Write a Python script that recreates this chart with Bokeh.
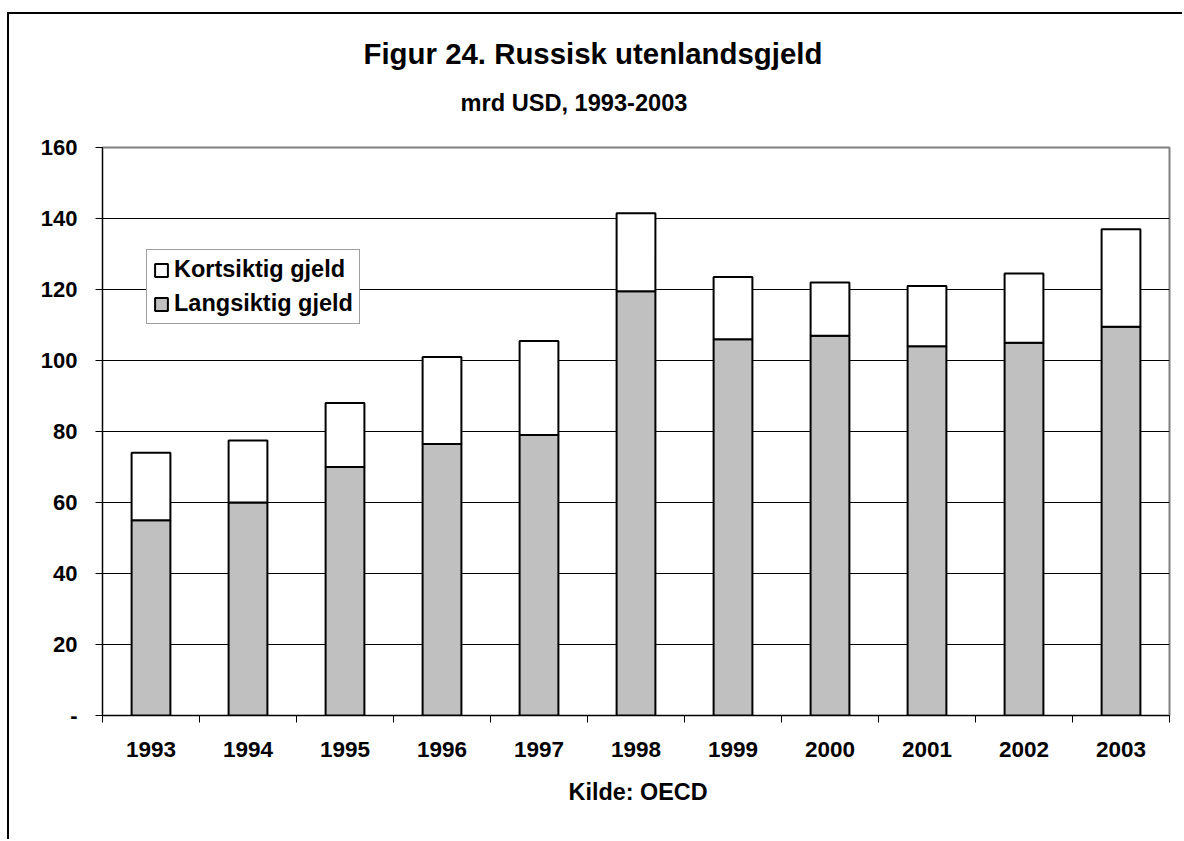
from bokeh.plotting import figure
from bokeh.models import Range1d, FixedTicker, Legend, LegendItem, Title, ColumnDataSource
from bokeh.embed import file_html
from bokeh.resources import INLINE

years = ["1993", "1994", "1995", "1996", "1997", "1998", "1999", "2000", "2001", "2002", "2003"]
long_term = [55, 60, 70, 76.5, 79, 119.5, 106, 107, 104, 105, 109.5]
short_term = [19, 17.5, 18, 24.5, 26.5, 22, 17.5, 15, 17, 19.5, 27.5]
y_ticks = [0, 20, 40, 60, 80, 100, 120, 140, 160]
series_names = ["Langsiktig gjeld", "Kortsiktig gjeld"]

FONT = "Liberation Sans"
n = len(years)
xs = [i + 0.5 for i in range(n)]
src = ColumnDataSource(dict(x=xs, long=long_term, short=short_term))

p = figure(width=1175, height=827, output_backend="svg", toolbar_location=None,
           x_range=Range1d(0, n), y_range=Range1d(0, 160),
           min_border_left=93, min_border_right=15, min_border_top=133, min_border_bottom=126)
p.styles = {"border-left": "2px solid black", "border-top": "2px solid black",
            "margin-top": "12px", "margin-left": "7px"}
p.background_fill_color = "white"
p.border_fill_color = "white"
p.outline_line_color = "#808080"
p.outline_line_width = 2

rs = p.vbar_stack(["long", "short"], x="x", width=0.4, source=src,
                  fill_color=["#c0c0c0", "white"], line_color="black", line_width=2)

# grid
p.xgrid.visible = False
p.ygrid.ticker = FixedTicker(ticks=y_ticks)
p.ygrid.grid_line_color = "black"
p.ygrid.grid_line_width = 1

# y axis
ya = p.yaxis[0]
ya.ticker = FixedTicker(ticks=y_ticks)
ya.major_label_overrides = {0: "-"}
ya.major_label_text_font = FONT
ya.major_label_text_font_style = "bold"
ya.major_label_text_font_size = "22px"
ya.major_label_text_color = "black"
ya.major_tick_out = 7
ya.major_tick_in = 0
ya.minor_tick_out = 0
ya.minor_tick_in = 0
ya.major_label_standoff = 18
ya.axis_line_color = "black"
ya.major_tick_line_color = "black"

# x axis
xa = p.xaxis[0]
xa.ticker = FixedTicker(ticks=xs, minor_ticks=list(range(n + 1)))
xa.major_label_overrides = {x: y for x, y in zip(xs, years)}
xa.major_label_text_font = FONT
xa.major_label_text_font_style = "bold"
xa.major_label_text_font_size = "22.5px"
xa.major_label_text_color = "black"
xa.major_tick_out = 0
xa.major_tick_in = 0
xa.minor_tick_out = 7
xa.minor_tick_in = 0
xa.minor_tick_line_color = "black"
xa.major_label_standoff = 19
xa.axis_line_color = "black"

legend = Legend(items=[LegendItem(label=series_names[1], renderers=[rs[1]]),
                       LegendItem(label=series_names[0], renderers=[rs[0]])],
                location=(44, 391), orientation="vertical",
                label_text_font=FONT, label_text_font_style="bold", label_text_font_size="23.5px",
                label_text_color="black", glyph_width=16, glyph_height=16, label_standoff=5,
                padding=6, spacing=7, margin=0,
                border_line_color="#404040", border_line_width=1,
                background_fill_color="white", background_fill_alpha=1)
p.add_layout(legend, "center")

sub = Title(text="mrd USD, 1993-2003", align="left", offset=358, standoff=64,
            text_font=FONT, text_font_style="bold", text_font_size="23.6px", text_color="black")
ttl = Title(text="Figur 24. Russisk utenlandsgjeld", align="left", offset=261, standoff=-29,
            text_font=FONT, text_font_style="bold", text_font_size="29.4px", text_color="black")
src_note = Title(text="Kilde: OECD", align="left", offset=466, standoff=34,
                 text_font=FONT, text_font_style="bold", text_font_size="23.4px", text_color="black")
p.add_layout(sub, "above")
p.add_layout(ttl, "above")
p.add_layout(src_note, "below")

open("out.html", "w").write(file_html(p, INLINE))
